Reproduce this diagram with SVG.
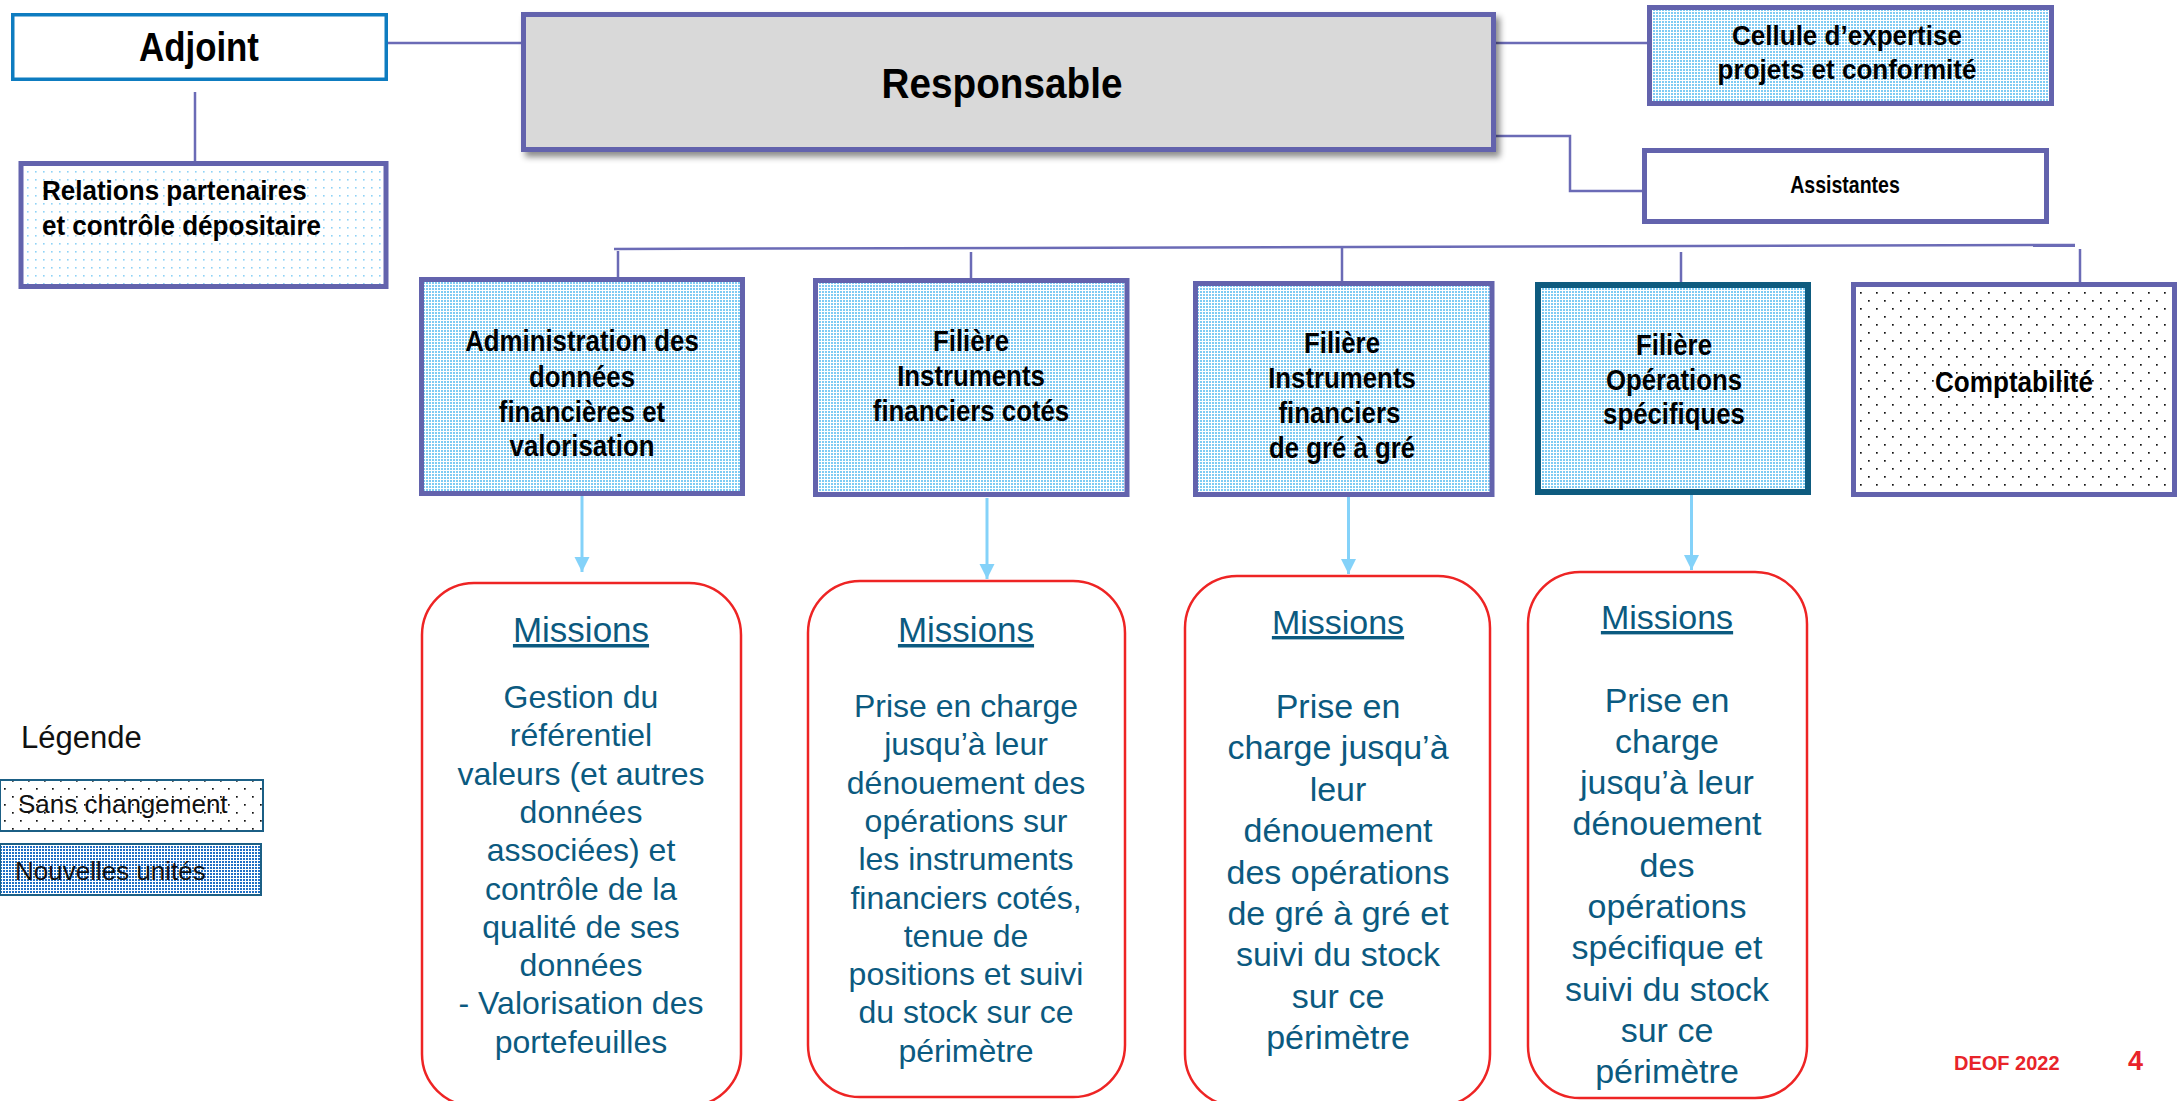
<svg xmlns="http://www.w3.org/2000/svg" width="2183" height="1101" viewBox="0 0 2183 1101">
<style>
text{font-family:"Liberation Sans",Arial,sans-serif}
.b{font-weight:bold;fill:#000}
.box{stroke:#6363ad;stroke-width:5}
.conn{fill:none;stroke:#6b6bb6;stroke-width:2.5}
.arr{fill:none;stroke:#84d2f9;stroke-width:3}
.mis{fill:#fff;stroke:#ee2424;stroke-width:2.5}
.mt{fill:#0b5a80;font-size:32px;text-anchor:middle}
.mt2{fill:#0b5a80;font-size:34px;text-anchor:middle}
.mh{fill:#0b5a80;text-anchor:middle;text-decoration:underline}
.leg{fill:#111;font-size:26px}
</style>
<defs>
<pattern id="newp" width="3" height="3" patternUnits="userSpaceOnUse"><rect width="3" height="3" fill="#fff"/><rect width="2" height="2" fill="#7fcbf3"/></pattern>
<pattern id="legnew" width="3" height="3" patternUnits="userSpaceOnUse"><rect width="3" height="3" fill="#fff"/><rect width="2" height="2" fill="#1f6fc5"/></pattern>
<pattern id="sparseBlue" width="8" height="8" patternUnits="userSpaceOnUse"><rect width="8" height="8" fill="#fff"/><rect x="3" y="3" width="1.6" height="1.6" fill="#8fd3f7"/></pattern>
<pattern id="sparseBlack" width="16" height="16" patternUnits="userSpaceOnUse"><rect width="16" height="16" fill="#fff"/><rect x="4" y="4" width="1.7" height="1.7" fill="#111"/><rect x="12" y="12" width="1.7" height="1.7" fill="#111"/></pattern>
<marker id="ah" markerUnits="userSpaceOnUse" markerWidth="16" markerHeight="16" refX="15" refY="7.5" orient="auto"><path d="M0,0 L15,7.5 L0,15 z" fill="#84d2f9"/></marker>
<filter id="sh" x="-5%" y="-10%" width="115%" height="130%"><feDropShadow dx="4" dy="5" stdDeviation="3" flood-color="#000" flood-opacity="0.45"/></filter>
</defs>

<g id="connectors">
<path class="conn" d="M388,43 H521"/>
<path class="conn" d="M195,92 V161"/>
<path class="conn" d="M1496,43 H1647"/>
<path class="conn" d="M1496,136 H1570 V191 H1642"/>
<path class="conn" d="M614,249 L2075,245"/>
<path class="conn" d="M618,251 V277"/>
<path class="conn" d="M971,252 V278"/>
<path class="conn" d="M1342,248 V281"/>
<path class="conn" d="M1681,252 V282"/>
<path class="conn" d="M2080,249 V282"/>
<path class="arr" d="M582,496 V572" marker-end="url(#ah)"/>
<path class="arr" d="M987,498 V579" marker-end="url(#ah)"/>
<path class="arr" d="M1348.5,497 V574" marker-end="url(#ah)"/>
<path class="arr" d="M1691.5,495 V570" marker-end="url(#ah)"/>
</g>

<g id="adjoint">
<rect x="12.75" y="14.75" width="373.5" height="64.5" fill="#fff" stroke="#0e7cc0" stroke-width="3.5"/>
<text class="b" font-size="41" text-anchor="middle" transform="translate(199,0) scale(0.85,1)" x="0" y="61">Adjoint</text>
</g>

<g id="relations">
<rect class="box" x="21" y="163.5" width="365" height="123" fill="url(#sparseBlue)"/>
<g transform="translate(42,0) scale(0.93,1)"><text class="b" font-size="28" x="0" y="200">Relations partenaires</text><text class="b" font-size="28" x="0" y="235">et contrôle dépositaire</text></g>
</g>

<g id="responsable">
<rect class="box" x="523.5" y="14.5" width="970" height="135" fill="#d9d9d9" filter="url(#sh)"/>
<text class="b" font-size="43" text-anchor="middle" transform="translate(1002,0) scale(0.9,1)" x="0" y="98">Responsable</text>
</g>

<g id="cellule">
<rect class="box" x="1649.5" y="7.5" width="402" height="96" fill="url(#newp)"/>
<g transform="translate(1847,0) scale(0.93,1)"><text class="b" font-size="28" text-anchor="middle" x="0" y="45">Cellule d’expertise</text><text class="b" font-size="28" text-anchor="middle" x="0" y="79">projets et conformité</text></g>
</g>

<g id="assistantes">
<rect class="box" x="1644.5" y="150.5" width="402" height="71" fill="#fff"/>
<text class="b" font-size="23" text-anchor="middle" transform="translate(1845,0) scale(0.85,1)" x="0" y="193">Assistantes</text>
</g>

<g id="admin">
<rect class="box" x="421.5" y="279.5" width="321" height="214" fill="url(#newp)"/>
<g transform="translate(582,0) scale(0.89,1)" font-size="29" text-anchor="middle"><text class="b" x="0" y="351">Administration des</text><text class="b" x="0" y="387">données</text><text class="b" x="0" y="422">financières et</text><text class="b" x="0" y="456">valorisation</text></g>
</g>

<g id="ifc">
<rect class="box" x="815.5" y="280.5" width="311.5" height="214" fill="url(#newp)"/>
<g transform="translate(971,0) scale(0.89,1)" font-size="29" text-anchor="middle"><text class="b" x="0" y="351">Filière</text><text class="b" x="0" y="386">Instruments</text><text class="b" x="0" y="421">financiers cotés</text></g>
</g>

<g id="gre">
<rect class="box" x="1195.5" y="283.5" width="296.5" height="211" fill="url(#newp)"/>
<g transform="translate(1342,0) scale(0.89,1)" font-size="29" text-anchor="middle"><text class="b" x="0" y="353">Filière</text><text class="b" x="0" y="388">Instruments</text><text class="b" x="-3" y="423">financiers</text><text class="b" x="0" y="458">de gré à gré</text></g>
</g>

<g id="operations">
<rect x="1538" y="285" width="270" height="207" fill="url(#newp)" stroke="#0e5b7f" stroke-width="6"/>
<g transform="translate(1674,0) scale(0.89,1)" font-size="29" text-anchor="middle"><text class="b" x="0" y="355">Filière</text><text class="b" x="0" y="390">Opérations</text><text class="b" x="0" y="424">spécifiques</text></g>
</g>

<g id="comptabilite">
<rect class="box" x="1853.5" y="284.5" width="321" height="210" fill="url(#sparseBlack)"/>
<text class="b" font-size="29" text-anchor="middle" transform="translate(2014,0) scale(0.9,1)" x="0" y="392">Comptabilité</text>
</g>

<g id="missions1">
<rect class="mis" x="422" y="583" width="319" height="523" rx="52"/>
<text class="mh" font-size="35" x="581" y="642">Missions</text>
<g class="mt"><text x="581" y="708">Gestion du</text><text x="581" y="746.3">référentiel</text><text x="581" y="784.6">valeurs (et autres</text><text x="581" y="822.9">données</text><text x="581" y="861.2">associées) et</text><text x="581" y="899.5">contrôle de la</text><text x="581" y="937.8">qualité de ses</text><text x="581" y="976.1">données</text><text x="581" y="1014.4">- Valorisation des</text><text x="581" y="1052.7">portefeuilles</text></g>
</g>

<g id="missions2">
<rect class="mis" x="808" y="581" width="317" height="516" rx="52"/>
<text class="mh" font-size="35" x="966" y="642">Missions</text>
<g class="mt"><text x="966" y="717">Prise en charge</text><text x="966" y="755.3">jusqu’à leur</text><text x="966" y="793.6">dénouement des</text><text x="966" y="831.9">opérations sur</text><text x="966" y="870.2">les instruments</text><text x="966" y="908.5">financiers cotés,</text><text x="966" y="946.8">tenue de</text><text x="966" y="985.1">positions et suivi</text><text x="966" y="1023.4">du stock sur ce</text><text x="966" y="1061.7">périmètre</text></g>
</g>

<g id="missions3">
<rect class="mis" x="1185" y="576" width="305" height="530" rx="52"/>
<text class="mh" font-size="34" x="1338" y="634">Missions</text>
<g class="mt2"><text x="1338" y="718">Prise en</text><text x="1338" y="759.4">charge jusqu’à</text><text x="1338" y="800.8">leur</text><text x="1338" y="842.2">dénouement</text><text x="1338" y="883.6">des opérations</text><text x="1338" y="925">de gré à gré et</text><text x="1338" y="966.4">suivi du stock</text><text x="1338" y="1007.8">sur ce</text><text x="1338" y="1049.2">périmètre</text></g>
</g>

<g id="missions4">
<rect class="mis" x="1528" y="572" width="279" height="526" rx="52"/>
<text class="mh" font-size="34" x="1667" y="629">Missions</text>
<g class="mt2"><text x="1667" y="711.5">Prise en</text><text x="1667" y="752.8">charge</text><text x="1667" y="794.1">jusqu’à leur</text><text x="1667" y="835.4">dénouement</text><text x="1667" y="876.7">des</text><text x="1667" y="918">opérations</text><text x="1667" y="959.3">spécifique et</text><text x="1667" y="1000.6">suivi du stock</text><text x="1667" y="1041.9">sur ce</text><text x="1667" y="1083.2">périmètre</text></g>
</g>

<g id="legend">
<text fill="#111" font-size="31" x="21" y="748">Légende</text>
<rect x="0" y="780" width="263" height="51" fill="url(#sparseBlack)" stroke="#1b5f85" stroke-width="2"/>
<text class="leg" x="18" y="813">Sans changement</text>
<rect x="0" y="844" width="261" height="51" fill="url(#legnew)" stroke="#1b5f85" stroke-width="2"/>
<text class="leg" x="15" y="880">Nouvelles unités</text>
</g>

<g id="footer">
<text font-weight="bold" fill="#e8242a" font-size="20" x="1954" y="1070">DEOF 2022</text>
<text font-weight="bold" fill="#e8242a" font-size="27" x="2128" y="1070">4</text>
</g>
</svg>
